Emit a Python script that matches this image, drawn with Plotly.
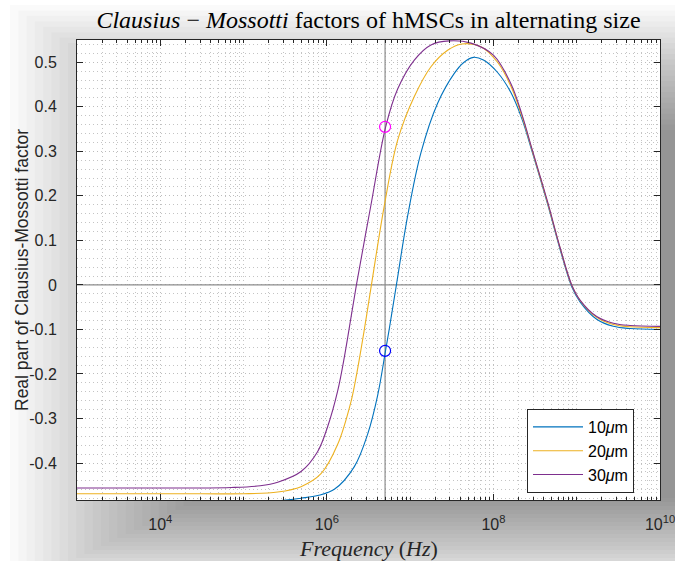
import numpy as np
import plotly.graph_objects as go

# ---------------- data ----------------
# log10 of frequency in Hz, and real part of Clausius-Mossotti factor
logf_10um = [3.0, 5.0, 5.57, 5.69, 5.89, 6.09, 6.33, 6.49, 6.61, 6.706, 6.75, 6.835,
             6.97, 7.13, 7.33, 7.53, 7.64, 7.76, 7.88, 8.05, 8.21, 8.34, 8.47, 8.65, 8.80,
             8.94, 9.04, 9.24, 9.44, 9.64, 10.0]
cm_10um = [-0.490, -0.490, -0.482, -0.479, -0.473, -0.459, -0.408, -0.335, -0.248,
           -0.146, -0.098, 0.0, 0.155, 0.297, 0.408, 0.475, 0.499, 0.511, 0.505, 0.477,
           0.432, 0.374, 0.296, 0.182, 0.080, -0.004, -0.038, -0.077, -0.093, -0.098, -0.100]

logf_20um = [3.0, 4.5, 5.0, 5.41, 5.69, 5.93, 6.13, 6.29, 6.36, 6.45, 6.535, 6.69,
             6.85, 7.05, 7.25, 7.45, 7.62, 7.85, 8.05, 8.21, 8.34, 8.47, 8.65, 8.80,
             8.94, 9.04, 9.24, 9.44, 9.64, 10.0]
cm_20um = [-0.469, -0.469, -0.469, -0.465, -0.453, -0.424, -0.358, -0.262, -0.198,
           -0.100, 0.0, 0.178, 0.325, 0.423, 0.490, 0.527, 0.541, 0.535, 0.500,
           0.446, 0.380, 0.299, 0.185, 0.083, -0.001, -0.035, -0.073, -0.089, -0.094, -0.096]

logf_30um = [3.0, 4.5, 4.85, 5.2, 5.41, 5.69, 5.89, 6.01, 6.13, 6.21, 6.29, 6.355,
             6.53, 6.706, 6.85, 7.05, 7.25, 7.47, 7.73, 8.00, 8.21, 8.34, 8.47, 8.65,
             8.80, 8.94, 9.04, 9.24, 9.44, 9.64, 10.0]
cm_30um = [-0.456, -0.456, -0.455, -0.451, -0.443, -0.419, -0.374, -0.318, -0.238,
           -0.162, -0.073, 0.0, 0.180, 0.355, 0.440, 0.505, 0.539, 0.548, 0.543,
           0.516, 0.452, 0.384, 0.301, 0.187, 0.084, 0.0, -0.034, -0.071, -0.086, -0.091, -0.093]

series_names = ["10<i>μ</i>m", "20<i>μ</i>m", "30<i>μ</i>m"]
series_logf = [logf_10um, logf_20um, logf_30um]
series_cm = [cm_10um, cm_20um, cm_30um]
series_colors = ["#0072BD", "#EDB120", "#7E2F8E"]

marker_freq = 5e6
marker_values = [0.355, -0.148]
marker_colors = ["#FF00FF", "#0000FF"]

x_range_exp = [3, 10]
y_range = [-0.483, 0.55]
x_label_exps = [4, 6, 8, 10]
y_ticks = [-0.4, -0.3, -0.2, -0.1, 0, 0.1, 0.2, 0.3, 0.4, 0.5]
y_ticktext = ["-0.4", "-0.3", "-0.2", "-0.1", "0", "0.1", "0.2", "0.3", "0.4", "0.5"]

title_text = "<i>Clausius</i> − <i>Mossotti</i> factors of hMSCs in alternating size"
xlabel_text = "<i>Frequency</i> (<i>Hz</i>)"
ylabel_text = "Real part of Clausius-Mossotti factor"

# ---------------- figure ----------------
W, H = 675, 561
ML, MR, MT, MB = 77, 15, 40, 61
PW, PH = W - ML - MR, H - MT - MB

def px2paper_x(px):
    return (px - ML) / PW

def px2paper_y(py):
    return (H - MB - py) / PH

fig = go.Figure()

# reference lines
fig.add_trace(go.Scatter(x=[10 ** x_range_exp[0], 10 ** x_range_exp[1]], y=[0, 0],
                         mode="lines", line=dict(color="#8c8c8c", width=1.2),
                         showlegend=False, hoverinfo="skip"))
fig.add_trace(go.Scatter(x=[marker_freq, marker_freq], y=y_range,
                         mode="lines", line=dict(color="#8c8c8c", width=1.2),
                         showlegend=False, hoverinfo="skip"))

for name, lf, cm, col in zip(series_names, series_logf, series_cm, series_colors):
    fig.add_trace(go.Scatter(x=np.power(10.0, lf), y=cm, mode="lines", name=name,
                             line=dict(color=col, width=1.1, shape="spline", smoothing=1.0)))

for v, c in zip(marker_values, marker_colors):
    fig.add_trace(go.Scatter(x=[marker_freq], y=[v], mode="markers", showlegend=False,
                             marker=dict(symbol="circle-open", size=11, color=c,
                                         line=dict(color=c, width=1.2))))

# drop-shadow behind the axes box
shapes = []
N = 24
alpha = 1 - (1 - 0.38) ** (1.0 / N)
outer = (10, 5, 800, 590)    # px: x0, y0(top), x1, y1(bottom)
inner = (200, 130, 720, 498)
for i in range(N):
    t = i / (N - 1)
    r = [o + t * (n - o) for o, n in zip(outer, inner)]
    shapes.append(dict(type="rect", xref="paper", yref="paper", layer="below",
                       x0=px2paper_x(r[0]), x1=px2paper_x(r[2]),
                       y0=px2paper_y(r[3]), y1=px2paper_y(r[1]),
                       fillcolor=f"rgba(0,0,0,{alpha:.4f})", line=dict(width=0)))
shapes.append(dict(type="rect", xref="paper", yref="paper", layer="below",
                   x0=0, x1=1, y0=0, y1=1, fillcolor="white", line=dict(width=0)))

minor_x = [m * 10.0 ** e for e in range(x_range_exp[0], x_range_exp[1])
           for m in range(1, 10) if not (m == 1 and e in x_label_exps)]

axis_col = "#262626"
fig.update_layout(
    width=W, height=H,
    margin=dict(l=ML, r=MR, t=MT, b=MB, autoexpand=False),
    paper_bgcolor="white", plot_bgcolor="white",
    font=dict(family="Liberation Sans, Arial, sans-serif", size=16, color=axis_col),
    shapes=shapes,
    title=dict(text=title_text, x=px2paper_x(368.5), xref="paper", xanchor="center",
               y=1 - 20 / H, yref="container", yanchor="middle",
               font=dict(family="Liberation Serif, serif", size=24, color="black")),
    showlegend=True,
    legend=dict(x=px2paper_x(634), y=px2paper_y(493), xanchor="right", yanchor="bottom",
                bgcolor="white", bordercolor=axis_col, borderwidth=1,
                font=dict(size=16, color="black"), itemwidth=50, tracegroupgap=0),
    annotations=[
        dict(text=xlabel_text, xref="paper", yref="paper", x=px2paper_x(368.5),
             y=px2paper_y(548), xanchor="center", yanchor="middle", showarrow=False,
             font=dict(family="Liberation Serif, serif", size=22, color="#262626")),
        dict(text=ylabel_text, xref="paper", yref="paper", x=px2paper_x(22),
             y=0.5, xanchor="center", yanchor="middle", showarrow=False, textangle=-90,
             font=dict(size=17.5, color="#262626")),
    ],
)

fig.update_xaxes(
    type="log", range=x_range_exp, automargin=False,
    tickmode="array", tickvals=[10.0 ** e for e in x_label_exps],
    ticktext=[f"10<sup>{e}</sup>" for e in x_label_exps],
    ticks="inside", ticklen=6, tickcolor=axis_col, tickwidth=1,
    showline=True, linecolor=axis_col, linewidth=1, mirror="ticks",
    showgrid=True, gridcolor="#bdbdbd", griddash="1px,3px", gridwidth=1,
    minor=dict(tickmode="array", tickvals=minor_x, ticks="inside", ticklen=3,
               tickcolor=axis_col, showgrid=True, gridcolor="#c4c4c4", griddash="1px,3px"),
    zeroline=False, ticklabelstandoff=10, ticklabeloverflow="allow",
)
fig.update_yaxes(
    range=y_range, automargin=False, tickmode="array", tickvals=y_ticks, ticktext=y_ticktext,
    ticks="inside", ticklen=6, tickcolor=axis_col, tickwidth=1,
    showline=True, linecolor=axis_col, linewidth=1, mirror="ticks",
    showgrid=True, gridcolor="#bdbdbd", griddash="1px,3px", gridwidth=1,
    minor=dict(dtick=0.02, ticks="", showgrid=True, gridcolor="#c4c4c4", griddash="1px,3px"),
    zeroline=False, ticklabelstandoff=16,
)

fig.write_html("out.html", config={"displayModeBar": False},
               post_script="document.body.style.margin='0px';")
